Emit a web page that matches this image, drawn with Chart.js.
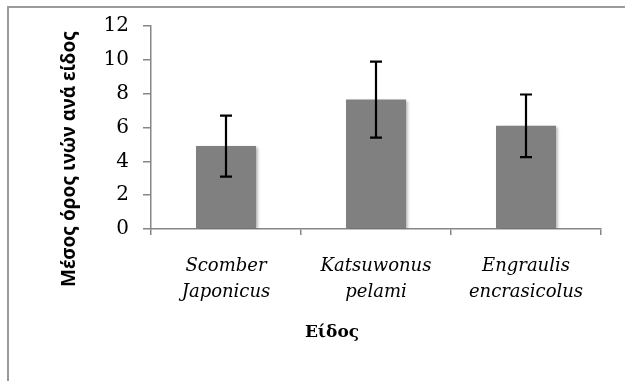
<!DOCTYPE html>
<html>
<head>
<meta charset="utf-8">
<script src="https://cdn.jsdelivr.net/npm/chart.js@4"></script>
<style>
  html, body { margin: 0; padding: 0; background: #fff; }
  #wrap { position: relative; width: 625px; height: 381px; overflow: hidden; }
  #frame { position: absolute; left: 7px; top: 6px; width: 700px; height: 400px;
           border-left: 2px solid #9a9a9a; border-top: 2px solid #9a9a9a; }
  canvas { position: absolute; left: 0; top: 0; }
</style>
</head>
<body>
<div id="wrap">
  <div id="frame"></div>
  <canvas id="chartFibres" width="625" height="381"></canvas>
</div>
<script>
// datos
const species = [['Scomber', 'Japonicus'], ['Katsuwonus', 'pelami'], ['Engraulis', 'encrasicolus']];
const meanFibres = [4.9, 7.65, 6.1];
const errFibres = [1.8, 2.25, 1.85];
const yTicks = [0, 2, 4, 6, 8, 10, 12];
const yTitle = 'Μέσος όρος ινών ανά είδος';
const xTitle = 'Είδος';

document.addEventListener('DOMContentLoaded', function () {
  const ctx = document.getElementById('chartFibres');

  // sombra suave de las barras
  const barShadow = {
    id: 'barShadow',
    beforeDatasetsDraw(chart) {
      const c = chart.ctx;
      c.save();
      c.shadowColor = 'rgba(0,0,0,0.35)';
      c.shadowBlur = 3;
      c.shadowOffsetX = 1.5;
      c.shadowOffsetY = 1;
    },
    afterDatasetsDraw(chart) {
      chart.ctx.restore();
    }
  };

  // barras de error
  const errorBars = {
    id: 'errorBars',
    afterDatasetsDraw(chart) {
      const c = chart.ctx;
      const y = chart.scales.y;
      const meta = chart.getDatasetMeta(0);
      c.save();
      c.strokeStyle = '#000';
      c.lineWidth = 2.2;
      meta.data.forEach((bar, i) => {
        const top = y.getPixelForValue(meanFibres[i] + errFibres[i]);
        const bottom = y.getPixelForValue(meanFibres[i] - errFibres[i]);
        c.beginPath();
        c.moveTo(bar.x, top); c.lineTo(bar.x, bottom);
        c.moveTo(bar.x - 6, top); c.lineTo(bar.x + 6, top);
        c.moveTo(bar.x - 6, bottom); c.lineTo(bar.x + 6, bottom);
        c.stroke();
      });
      c.restore();
    }
  };

  // títulos de los ejes
  const axisTitles = {
    id: 'axisTitles',
    afterDraw(chart) {
      const c = chart.ctx;
      const area = chart.chartArea;
      c.save();
      c.fillStyle = '#000';
      c.textAlign = 'center';
      c.textBaseline = 'middle';
      c.font = 'bold 19px "Noto Sans"';
      c.translate(70, area.bottom - 70);
      c.rotate(-Math.PI / 2);
      c.fillText(yTitle, 0, 0);
      c.restore();
      c.save();
      c.fillStyle = '#000';
      c.textAlign = 'center';
      c.textBaseline = 'middle';
      c.font = 'bold 17px "DejaVu Serif"';
      c.fillText(xTitle, area.left + 181, area.bottom + 104);
      c.restore();
    }
  };

  new Chart(ctx, {
    type: 'bar',
    data: {
      labels: species,
      datasets: [{
        label: yTitle,
        data: meanFibres,
        backgroundColor: '#808080',
        borderWidth: 0,
        barPercentage: 0.4,
        categoryPercentage: 1
      }]
    },
    options: {
      responsive: false,
      animation: false,
      layout: { padding: { left: 0, right: 24, top: 21, bottom: 0 } },
      plugins: {
        legend: { display: false },
        tooltip: { enabled: false }
      },
      scales: {
        x: {
          afterFit: s => { s.height = 152; },
          grid: { drawOnChartArea: false, offset: true, tickLength: 6, color: '#868686', lineWidth: 1.5 },
          border: { color: '#868686', width: 1.5 },
          ticks: {
            color: '#000',
            padding: 18,
            maxRotation: 0,
            font: { family: 'DejaVu Serif', style: 'italic', size: 18, lineHeight: 1.45 }
          }
        },
        y: {
          min: 0,
          max: 12,
          afterFit: s => { s.width = 151; },
          afterBuildTicks: s => { s.ticks = yTicks.map(v => ({ value: v })); },
          grid: { drawOnChartArea: false, tickLength: 8, color: '#868686', lineWidth: 1.5 },
          border: { color: '#868686', width: 1.5 },
          ticks: {
            color: '#000',
            padding: 14,
            font: { family: 'DejaVu Serif', size: 20 }
          }
        }
      }
    },
    plugins: [barShadow, errorBars, axisTitles]
  });
});
</script>
</body>
</html>
